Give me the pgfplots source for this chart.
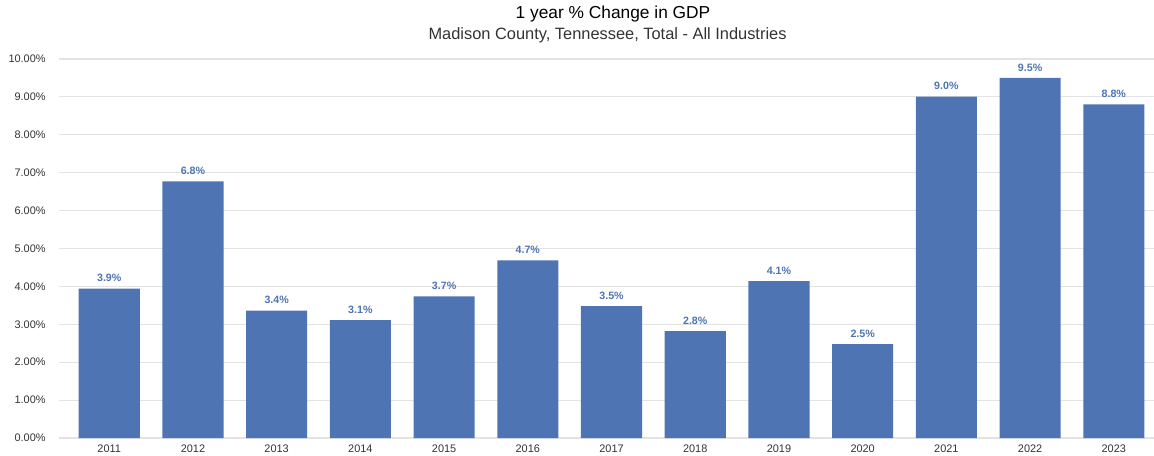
\documentclass[border=0pt]{standalone}
\usepackage{pgfplots}
\pgfplotsset{compat=1.18}
\usepackage{fontspec}
\setmainfont{Liberation Sans}
\definecolor{barblue}{HTML}{4E74B3}
\definecolor{gridgray}{HTML}{E3E3E3}
\definecolor{txtgray}{HTML}{333333}
\begin{document}
\begin{tikzpicture}[x=1pt,y=1pt]
\begin{axis}[
  at={(0,0)}, anchor=south west,
  scale only axis,
  width=821.25pt, height=284.25pt,
  xmin=-0.6, xmax=12.48,
  ymin=0, ymax=10,
  axis line style={draw=none},
  ymajorgrids, grid style={gridgray, line width=0.8pt},
  ytick={0,1,...,10},
  yticklabel={\pgfmathprintnumber[fixed,fixed zerofill,precision=2]{\tick}\%},
  /pgf/number format/assume math mode=true,
  xtick={0,...,12},
  xticklabels={2011,2012,2013,2014,2015,2016,2017,2018,2019,2020,2021,2022,2023},
  ticklabel style={font=\fontsize{8.2}{10}\selectfont, text=txtgray},
  major tick length=0pt,
  xticklabel style={yshift=-1.5pt},
  yticklabel style={xshift=-6.5pt},
  clip=false,
]
\addplot[ybar, bar width=0.73, fill=barblue, draw=none,
  nodes near coords={\pgfmathprintnumber[fixed,fixed zerofill,precision=1]{\pgfplotspointmeta}\%},
  nodes near coords style={font=\bfseries\fontsize{8}{9}\selectfont, text=barblue, yshift=1.5pt},
  /pgf/number format/assume math mode=true,
] coordinates {
 (0,3.94) (1,6.77) (2,3.36) (3,3.11) (4,3.74) (5,4.69) (6,3.48) (7,2.82) (8,4.14) (9,2.48) (10,9.01) (11,9.50) (12,8.80)
};
\end{axis}
\node[font=\fontsize{13}{15}\selectfont, text=black] at (415.5pt,318pt) {1 year \% Change in GDP};
\node[font=\fontsize{12.3}{14}\selectfont, text=txtgray] at (411.4pt,302pt) {Madison County, Tennessee, Total - All Industries};
\pgfresetboundingbox
\path[use as bounding box] (-44.25pt,-12.75pt) rectangle (821.25pt,328.5pt);
\end{tikzpicture}
\end{document}
